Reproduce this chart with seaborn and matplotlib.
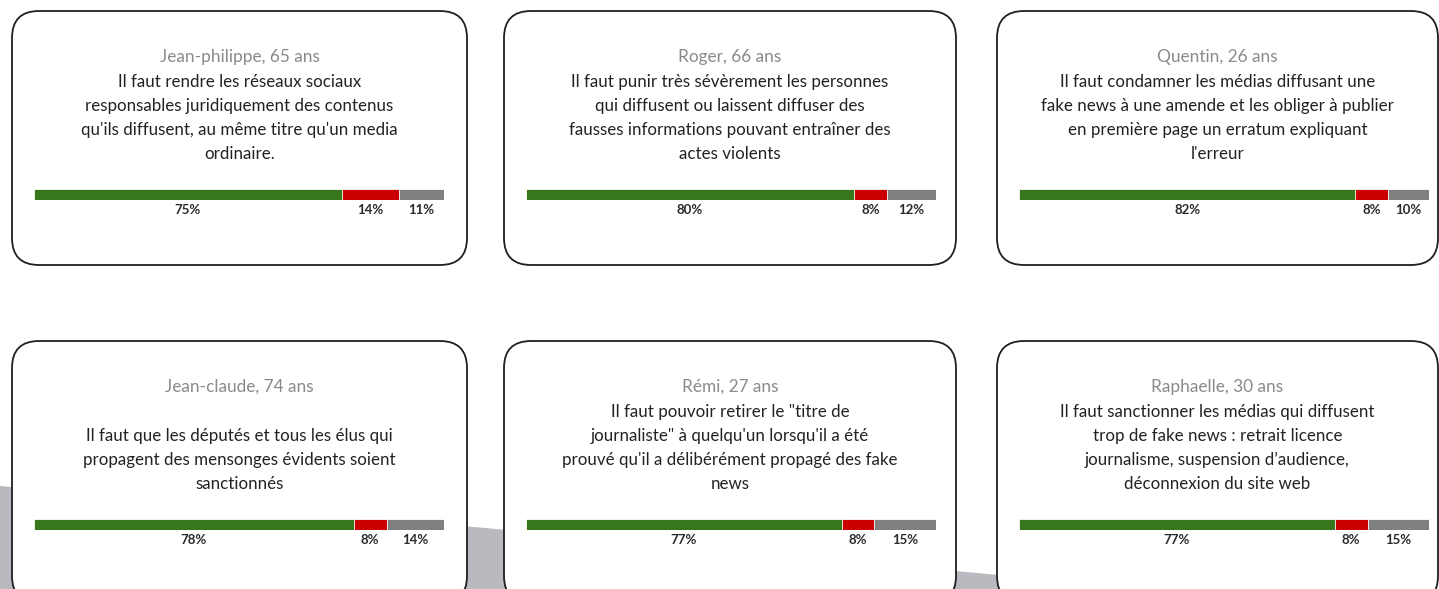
import numpy as np
import pandas as pd
import matplotlib
matplotlib.use("Agg")
import matplotlib.pyplot as plt
from matplotlib.patches import FancyBboxPatch, Polygon
import seaborn as sns

sns.set_theme(style="white")
plt.rcParams['font.family'] = ['Lato', 'DejaVu Sans']

# ---------------- data ----------------
names = ["Jean-philippe, 65 ans", "Roger, 66 ans", "Quentin, 26 ans",
         "Jean-claude, 74 ans", "Rémi, 27 ans", "Raphaelle, 30 ans"]
statements = [
    ["Il faut rendre les réseaux sociaux", "responsables juridiquement des contenus",
     "qu'ils diffusent, au même titre qu'un media", "ordinaire."],
    ["Il faut punir très sévèrement les personnes", "qui diffusent ou laissent diffuser des",
     "fausses informations pouvant entraîner des", "actes violents"],
    ["Il faut condamner les médias diffusant une", "fake news à une amende et les obliger à publier",
     "en première page un erratum expliquant", "l'erreur"],
    ["Il faut que les députés et tous les élus qui", "propagent des mensonges évidents soient",
     "sanctionnés"],
    ["Il faut pouvoir retirer le \"titre de", "journaliste\" à quelqu'un lorsqu'il a été",
     "prouvé qu'il a délibérément propagé des fake", "news"],
    ["Il faut sanctionner les médias qui diffusent", "trop de fake news : retrait licence",
     "journalisme, suspension d’audience,", "déconnexion du site web"],
]
pour = [75, 80, 82, 78, 77, 77]
contre = [14, 8, 8, 8, 8, 8]
autre = [11, 12, 10, 14, 15, 15]

segments = ["Autre", "Contre", "Pour"]
seg_colors = {"Pour": "#38761d", "Contre": "#cc0000", "Autre": "#808080"}

# ---------------- layout ----------------
W, H = 1439, 589
fig = plt.figure(figsize=(W / 100, H / 100), dpi=100)
fig.patch.set_facecolor("white")
bg = fig.add_axes([0, 0, 1, 1])
bg.set_xlim(0, W)
bg.set_ylim(H, 0)
bg.axis("off")

# decorative grey shape behind second row
bg.add_patch(Polygon([(0, 486), (485, 528), (977, 573), (1010, 576), (1010, 589), (0, 589)],
                     closed=True, facecolor="#b8babf", edgecolor="none", zorder=0))

col_x = [12, 504, 997]
col_w = [455, 452, 441]
row_y = [11, 341]
row_h = [254, 262]
bar_dx, bar_w, bar_dy, bar_h = 22, 410, 178, 11

for i in range(6):
    r, c = divmod(i, 3)
    x0, y0, w, h = col_x[c], row_y[r], col_w[c], row_h[r]
    bg.add_patch(FancyBboxPatch((x0, y0), w, h,
                                boxstyle="round,pad=0,rounding_size=27",
                                facecolor="white", edgecolor="#1f1f1f", linewidth=1.3, zorder=1))
    cx = x0 + w / 2
    bg.text(cx, y0 + 46, names[i], ha="center", va="center", fontsize=12.4,
            color="#8a8a8a", zorder=2)
    lines = statements[i]
    n = len(lines)
    bar_top = y0 + bar_dy
    for j, line in enumerate(lines):
        ly = bar_top - 35 - (n - 1 - j) * 24
        bg.text(cx, ly, line, ha="center", va="center", fontsize=12.2,
                color="#222222", zorder=2)

    # stacked bar through seaborn (cumulative overlapping bars)
    bx = x0 + bar_dx
    ax = fig.add_axes([bx / W, 1 - (bar_top + bar_h) / H, bar_w / W, bar_h / H])
    vals = {"Pour": pour[i], "Contre": contre[i], "Autre": autre[i]}
    cum = {"Pour": pour[i], "Contre": pour[i] + contre[i], "Autre": pour[i] + contre[i] + autre[i]}
    df = pd.DataFrame({"card": [names[i]] * 3, "seg": segments,
                       "cum": [cum[s] for s in segments]})
    sns.barplot(data=df, x="cum", y="card", hue="seg", hue_order=segments,
                palette=seg_colors, dodge=False, width=1, orient="h", ax=ax,
                legend=False, saturation=1, edgecolor="white", linewidth=0.6)
    ax.set_xlim(0, 100)
    ax.set_ylim(0.5, -0.5)
    ax.axis("off")
    starts = {"Pour": 0, "Contre": pour[i], "Autre": pour[i] + contre[i]}
    for s in ["Pour", "Contre", "Autre"]:
        ax.annotate(f"{vals[s]}%", xy=(starts[s] + vals[s] / 2, 0), xytext=(0, -15.5),
                    textcoords="offset pixels", ha="center", va="center",
                    fontsize=9.5, fontweight="bold", color="#2a2a2a", annotation_clip=False)

fig.savefig("out.png", dpi=100, facecolor="white")
